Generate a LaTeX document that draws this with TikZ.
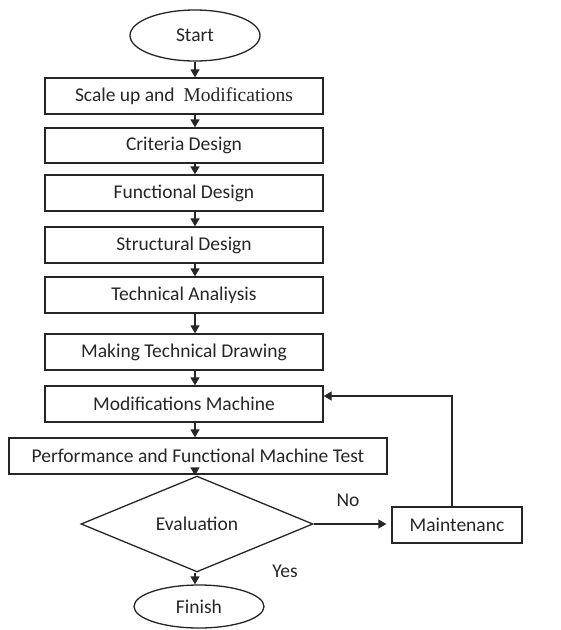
\documentclass[tikz,border=0pt]{standalone}
\usepackage{fontspec}
\setmainfont{Carlito}
\newfontfamily\serifpart{Liberation Serif}
\usetikzlibrary{shapes.geometric,arrows.meta}
\tikzset{
  base/.style={draw=black!85, line width=1.3pt, font=\fontsize{19.5}{22}\selectfont, inner sep=0pt, text=black!85},
  box/.style={base, rectangle, minimum height=36pt},
  term/.style={base, ellipse, minimum width=130pt},
  dec/.style={base, diamond, minimum width=232pt, minimum height=70pt},
  conn/.style={draw=black!85, line width=1.3pt, -{Triangle[length=8pt,width=9pt]}},
  lbl/.style={font=\fontsize{19.5}{22}\selectfont, text=black!85, inner sep=0pt}
}
\begin{document}
\begin{tikzpicture}[x=1pt,y=-1pt]
\useasboundingbox[fill=white] (0,0) rectangle (561,630);
\node[term, minimum height=51pt] (start) at (195,35.5) {Start};
\node[box, minimum width=278pt] (b1) at (184,96) {Scale up and\ \ {\serifpart Modifications}};
\node[box, minimum width=278pt, minimum height=35pt] (b2) at (184,145.5) {Criteria Design};
\node[box, minimum width=278pt] (b3) at (184,193) {Functional Design};
\node[box, minimum width=278pt] (b4) at (184,245) {Structural Design};
\node[box, minimum width=278pt] (b5) at (184,295) {Technical Analiysis};
\node[box, minimum width=278pt] (b6) at (184,352) {Making Technical Drawing};
\node[box, minimum width=278pt] (b7) at (184,404) {Modifications Machine};
\node[box, minimum width=378pt] (b8) at (198,456) {Performance and Functional Machine Test};
\node[dec] (eval) at (197,524) {Evaluation};
\node[box, minimum width=130pt] (maint) at (457,525) {Maintenanc};
\node[term, minimum height=43pt] (finish) at (199,606.5) {Finish};
\node[lbl] (no) at (348,500) {No};
\node[lbl] (yes) at (285,571) {Yes};
\coordinate (ax) at (195,0);
\coordinate (loop) at (452,396);
\draw[conn] (start.south -| ax) -- (b1.north -| ax);
\draw[conn] (b1.south -| ax) -- (b2.north -| ax);
\draw[conn] (b2.south -| ax) -- (b3.north -| ax);
\draw[conn] (b3.south -| ax) -- (b4.north -| ax);
\draw[conn] (b4.south -| ax) -- (b5.north -| ax);
\draw[conn] (b5.south -| ax) -- (b6.north -| ax);
\draw[conn] (b6.south -| ax) -- (b7.north -| ax);
\draw[conn] (b7.south -| ax) -- (b8.north -| ax);
\draw[conn] (b8.south -| ax) -- (eval.north -| ax);
\draw[conn] (eval.south -| ax) -- (finish.north -| ax);
\draw[conn] (eval.east) -- ([xshift=-5pt]maint.west |- eval.east);
\draw[conn] (maint.north -| loop) -- (loop) -- (loop -| b7.east);
\end{tikzpicture}
\end{document}
